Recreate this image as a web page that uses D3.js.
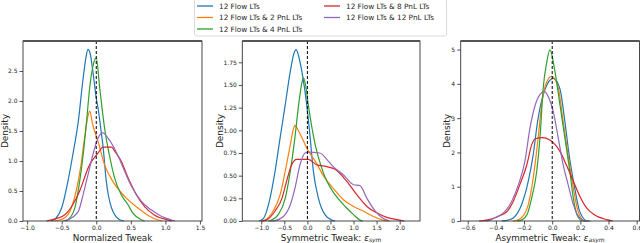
<!DOCTYPE html>
<html>
<head>
<meta charset="utf-8">
<script src="https://cdn.jsdelivr.net/npm/d3@7.9.0/dist/d3.min.js"></script>
<style>
  body { margin: 0; background: #fff; }
  svg { font-family: "DejaVu Sans", sans-serif; }
</style>
</head>
<body>
<svg id="chart" width="640" height="243"></svg>
<script>
// series labels
const seriesNames = [
  "12 Flow LTs",
  "12 Flow LTs & 2 PnL LTs",
  "12 Flow LTs & 4 PnL LTs",
  "12 Flow LTs & 8 PnL LTs",
  "12 Flow LTs & 12 PnL LTs"
];
const colors = ["#1f77b4", "#ff7f0e", "#2ca02c", "#d62728", "#9467bd"];

// panel 1 - normalized tweak, [value, density]
const normFlow = [[-0.65,0],[-0.58,0.05],[-0.5,0.22],[-0.41,0.66],[-0.34,1.1],[-0.26,1.66],[-0.19,2.38],[-0.15,2.72],[-0.12,2.86],[-0.09,2.8],[-0.05,2.5],[0.0,2.05],[0.03,1.85],[0.07,1.5],[0.1,1.22],[0.145,0.66],[0.18,0.4],[0.22,0.22],[0.28,0.08],[0.34,0.02],[0.4,0]];
const normPnl2 = [[-0.6,0],[-0.46,0.05],[-0.36,0.22],[-0.29,0.5],[-0.22,0.94],[-0.17,1.38],[-0.12,1.75],[-0.095,1.83],[-0.05,1.6],[0.025,1.33],[0.12,0.94],[0.24,0.66],[0.41,0.41],[0.6,0.22],[0.77,0.08],[0.89,0.02],[0.95,0]];
const normPnl4 = [[-0.45,0],[-0.41,0.02],[-0.31,0.22],[-0.24,0.66],[-0.19,1.1],[-0.14,1.66],[-0.095,2.22],[-0.04,2.62],[0.0,2.72],[0.05,2.22],[0.12,1.55],[0.19,1.1],[0.265,0.72],[0.36,0.44],[0.46,0.27],[0.53,0.13],[0.65,0.02],[0.7,0]];
const normPnl8 = [[-0.72,0],[-0.65,0.02],[-0.46,0.1],[-0.34,0.27],[-0.24,0.5],[-0.17,0.72],[-0.12,0.88],[0.025,1.13],[0.1,1.23],[0.22,1.23],[0.27,1.16],[0.36,1.0],[0.46,0.72],[0.58,0.44],[0.7,0.24],[0.84,0.1],[1.03,0.02],[1.1,0]];
const normPnl12 = [[-0.48,0],[-0.41,0.02],[-0.26,0.16],[-0.19,0.44],[-0.12,0.77],[-0.05,1.1],[0.025,1.38],[0.097,1.47],[0.17,1.38],[0.31,1.1],[0.41,0.83],[0.5,0.6],[0.65,0.33],[0.79,0.19],[0.94,0.08],[1.08,0.02],[1.14,0]];

// panel 2 - symmetric tweak
const symFlow = [[-1.05,0],[-0.95,0.03],[-0.81,0.25],[-0.7,0.55],[-0.59,0.92],[-0.48,1.28],[-0.37,1.65],[-0.29,1.85],[-0.245,1.89],[-0.19,1.82],[-0.12,1.65],[-0.013,1.28],[0.06,0.92],[0.13,0.55],[0.24,0.25],[0.38,0.07],[0.53,0.01],[0.6,0]];
const symPnl2 = [[-1.0,0],[-0.92,0.01],[-0.74,0.11],[-0.59,0.29],[-0.48,0.55],[-0.37,0.84],[-0.3,1.02],[-0.27,1.055],[-0.2,1.0],[-0.12,0.92],[-0.01,0.8],[0.17,0.66],[0.36,0.49],[0.56,0.36],[0.78,0.235],[1.0,0.16],[1.21,0.11],[1.43,0.05],[1.64,0.01],[1.75,0]];
const symPnl4 = [[-0.85,0],[-0.78,0.01],[-0.63,0.07],[-0.48,0.25],[-0.37,0.55],[-0.27,0.92],[-0.19,1.28],[-0.12,1.52],[-0.085,1.58],[-0.04,1.5],[0.02,1.28],[0.17,0.84],[0.3,0.6],[0.42,0.44],[0.6,0.29],[0.82,0.16],[1.0,0.07],[1.14,0.01],[1.2,0]];
const symPnl8 = [[-1.0,0],[-0.89,0.01],[-0.7,0.11],[-0.55,0.25],[-0.45,0.44],[-0.34,0.62],[-0.23,0.68],[0.02,0.68],[0.2,0.62],[0.42,0.6],[0.6,0.57],[0.85,0.44],[1.07,0.29],[1.29,0.16],[1.5,0.09],[1.72,0.04],[2.0,0.01],[2.1,0]];
const symPnl12 = [[-0.8,0],[-0.7,0.005],[-0.52,0.05],[-0.37,0.18],[-0.27,0.36],[-0.16,0.62],[-0.05,0.75],[0.02,0.76],[0.27,0.75],[0.42,0.68],[0.56,0.6],[0.78,0.51],[1.0,0.4],[1.14,0.39],[1.29,0.25],[1.47,0.11],[1.64,0.03],[1.78,0]];

// panel 3 - asymmetric tweak
const asymFlow = [[-0.36,0],[-0.33,0.01],[-0.277,0.09],[-0.217,0.48],[-0.17,1.16],[-0.135,1.93],[-0.104,2.9],[-0.05,3.85],[0.007,4.16],[0.055,3.85],[0.09,2.9],[0.12,1.93],[0.16,0.96],[0.195,0.28],[0.25,0],[0.27,0]];
const asymPnl2 = [[-0.28,0],[-0.26,0.01],[-0.22,0.09],[-0.17,0.48],[-0.135,1.25],[-0.1,2.42],[-0.075,3.39],[-0.04,4.05],[-0.004,4.22],[0.043,3.88],[0.078,2.9],[0.113,1.93],[0.15,0.96],[0.184,0.28],[0.23,0],[0.25,0]];
const asymPnl4 = [[-0.25,0],[-0.23,0.01],[-0.18,0.18],[-0.146,0.67],[-0.11,1.45],[-0.087,2.42],[-0.064,3.88],[-0.04,4.6],[-0.016,4.99],[0.02,4.35],[0.055,3.39],[0.09,2.42],[0.125,1.45],[0.15,0.67],[0.18,0.14],[0.22,0],[0.24,0]];
const asymPnl8 = [[-0.52,0],[-0.49,0.01],[-0.45,0.04],[-0.38,0.14],[-0.32,0.28],[-0.277,0.57],[-0.23,1.06],[-0.18,1.64],[-0.146,2.22],[-0.12,2.4],[-0.07,2.43],[-0.02,2.37],[0.055,2.03],[0.1,1.64],[0.15,1.16],[0.196,0.72],[0.244,0.38],[0.3,0.18],[0.386,0.04],[0.43,0]];
const asymPnl12 = [[-0.48,0],[-0.45,0.01],[-0.41,0.09],[-0.335,0.28],[-0.288,0.57],[-0.24,1.06],[-0.194,1.74],[-0.158,2.71],[-0.12,3.39],[-0.085,3.7],[-0.055,3.78],[-0.025,3.6],[0.007,3.2],[0.043,2.42],[0.078,1.64],[0.113,1.06],[0.15,0.48],[0.196,0.09],[0.24,0],[0.26,0]];

// ticks
const normXTicks = [-1.0, -0.5, 0.0, 0.5, 1.0, 1.5];
const normYTicks = [0.0, 0.5, 1.0, 1.5, 2.0, 2.5];
const symXTicks = [-1.0, -0.5, 0.0, 0.5, 1.0, 1.5, 2.0];
const symYTicks = [0.0, 0.25, 0.5, 0.75, 1.0, 1.25, 1.5, 1.75];
const asymXTicks = [-0.6, -0.4, -0.2, 0.0, 0.2, 0.4, 0.6];
const asymYTicks = [0, 1, 2, 3, 4, 5];

const svg = d3.select("#chart");
const plotTop = 41, plotBottom = 221;

const panels = [
  { left: 23, right: 202, xDom: [-1.06, 1.53], yMax: 3.0, xt: normXTicks, yt: normYTicks, xf: ".1f", yf: ".1f",
    series: [normFlow, normPnl2, normPnl4, normPnl8, normPnl12], label: "Normalized Tweak", sub: null, dens: 5 },
  { left: 242.3, right: 420, xDom: [-1.41, 2.44], yMax: 1.985, xt: symXTicks, yt: symYTicks, xf: ".1f", yf: ".2f",
    series: [symFlow, symPnl2, symPnl4, symPnl8, symPnl12], label: "Symmetric Tweak: ", sub: "sym", dens: 220 },
  { left: 460.7, right: 639.5, xDom: [-0.65, 0.62], yMax: 5.25, xt: asymXTicks, yt: asymYTicks, xf: ".1f", yf: "d",
    series: [asymFlow, asymPnl2, asymPnl4, asymPnl8, asymPnl12], label: "Asymmetric Tweak: ", sub: "asym", dens: 447 }
];

panels.forEach(p => {
  const x = d3.scaleLinear().domain(p.xDom).range([p.left, p.right]);
  const y = d3.scaleLinear().domain([0, p.yMax]).range([plotBottom, plotTop]);
  const g = svg.append("g");

  // x axis
  const xAxis = d3.axisBottom(x).tickValues(p.xt).tickSize(3.5).tickPadding(1.5)
    .tickFormat(d => d3.format(p.xf)(d).replace("-", "\u2212"));
  const gx = g.append("g").attr("transform", `translate(0,${plotBottom})`).call(xAxis);
  gx.select(".domain").remove();
  gx.selectAll("text").attr("font-size", 6).attr("fill", "#222").attr("font-family", "DejaVu Sans");
  gx.selectAll("line").attr("stroke", "#222").attr("stroke-width", 0.8);

  // y axis
  const yAxis = d3.axisLeft(y).tickValues(p.yt).tickSize(3.5).tickPadding(2)
    .tickFormat(d => d3.format(p.yf)(d));
  const gy = g.append("g").attr("transform", `translate(${p.left},0)`).call(yAxis);
  gy.select(".domain").remove();
  gy.selectAll("text").attr("font-size", 6).attr("fill", "#222").attr("font-family", "DejaVu Sans");
  gy.selectAll("line").attr("stroke", "#222").attr("stroke-width", 0.8);

  // density curves
  const line = d3.line().x(d => x(d[0])).y(d => y(d[1])).curve(d3.curveMonotoneX);
  g.append("g").selectAll("path").data(p.series).join("path")
    .attr("d", line)
    .attr("fill", "none")
    .attr("stroke", (d, i) => colors[i])
    .attr("stroke-width", 1.2);

  // zero line
  g.append("line")
    .attr("x1", x(0)).attr("x2", x(0)).attr("y1", plotTop).attr("y2", plotBottom)
    .attr("stroke", "#000").attr("stroke-width", 1).attr("stroke-dasharray", "3,2");

  // frame
  g.append("rect")
    .attr("x", p.left).attr("y", plotTop).attr("width", p.right - p.left).attr("height", plotBottom - plotTop)
    .attr("fill", "none").attr("stroke", "#333").attr("stroke-width", 0.9);
  g.append("line")
    .attr("x1", p.left).attr("x2", p.right).attr("y1", plotTop).attr("y2", plotTop)
    .attr("stroke", "#555").attr("stroke-width", 1.8);

  // labels
  const xl = g.append("text")
    .attr("x", (p.left + p.right) / 2).attr("y", 240.5)
    .attr("text-anchor", "middle").attr("font-size", 8.8).attr("fill", "#222")
    .text(p.label);
  if (p.sub) {
    xl.append("tspan").attr("font-style", "italic").text("\u03b5");
    xl.append("tspan").attr("font-style", "italic").attr("font-size", 6).attr("dy", 1.5).text(p.sub);
  }
  g.append("text")
    .attr("transform", `translate(${p.dens},${(plotTop + plotBottom) / 2}) rotate(-90)`)
    .attr("dy", "0.35em")
    .attr("text-anchor", "middle").attr("font-size", 9).attr("fill", "#222")
    .text("Density");
});

// legend
const legend = svg.append("g");
legend.append("rect")
  .attr("x", 194.5).attr("y", -1).attr("width", 252).attr("height", 37)
  .attr("rx", 2).attr("fill", "#fff").attr("fill-opacity", 0.9)
  .attr("stroke", "#d0d0d0").attr("stroke-width", 0.8);
const rowY = [6, 17.5, 29];
const colX = [197, 324];
seriesNames.forEach((name, i) => {
  const col = i < 3 ? 0 : 1;
  const row = i < 3 ? i : i - 3;
  const lx = colX[col], ly = rowY[row];
  legend.append("line")
    .attr("x1", lx).attr("x2", lx + 16).attr("y1", ly).attr("y2", ly)
    .attr("stroke", colors[i]).attr("stroke-width", 1.3);
  legend.append("text")
    .attr("x", lx + 22).attr("y", ly).attr("dy", "0.35em")
    .attr("font-size", 7.3).attr("fill", "#222")
    .text(name);
});
</script>
</body>
</html>
